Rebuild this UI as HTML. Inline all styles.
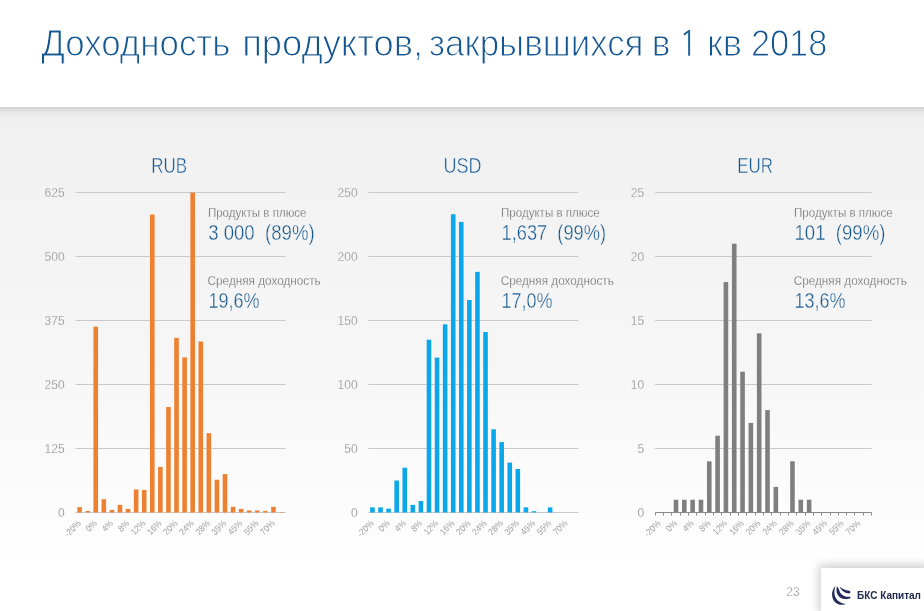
<!DOCTYPE html>
<html><head><meta charset="utf-8"><style>
html,body{margin:0;padding:0;}
body{width:924px;height:611px;overflow:hidden;position:relative;font-family:"Liberation Sans",sans-serif;background:#fff;}
#hdr{position:absolute;left:0;top:0;width:924px;height:106px;background:#fff;}
#bg{position:absolute;left:0;top:107px;width:924px;height:504px;background:linear-gradient(to bottom,#d3d3d3 0px,#d9d9d9 2.5px,#e6e6e6 5px,#ececec 8px,#f0f0f0 14px,#f2f2f2 60px,#f6f6f6 250px,#fdfdfd 420px,#ffffff 465px);}
svg{position:absolute;left:0;top:0;will-change:transform;}
.gl{stroke:#c9c9c9;stroke-width:1;}
.yl{font-size:12px;fill:#777;text-anchor:end;stroke:#f3f3f3;stroke-width:0.35px;}
.xl{font-size:9px;fill:#606060;text-anchor:end;stroke:#fbfbfb;stroke-width:0.25px;}
.ti{fill:#125590;stroke:#fff;stroke-width:1.05px;}
.ct{fill:#155891;stroke:#f2f2f2;stroke-width:0.5px;}
.al{fill:#555;stroke:#f3f3f3;stroke-width:0.35px;}
.av{fill:#15578c;stroke:#f3f3f3;stroke-width:0.4px;}
.pn{fill:#7a7a7a;stroke:#fff;stroke-width:0.4px;}
#logo{position:absolute;left:821px;top:568px;width:110px;height:50px;background:#fff;box-shadow:-2px -3px 9px rgba(0,0,0,0.2);}
#lt{position:absolute;left:36px;top:22px;font-size:10px;font-weight:bold;color:#222a50;white-space:nowrap;}
</style></head><body>
<div id="hdr"></div>
<div id="bg"></div>
<svg width="924" height="611" viewBox="0 0 924 611" font-family="Liberation Sans, sans-serif">
<line x1="75.56" y1="512.50" x2="285.56" y2="512.50" class="gl"/>
<text x="64.6" y="516.70" class="yl">0</text>
<line x1="75.56" y1="448.50" x2="285.56" y2="448.50" class="gl"/>
<text x="64.6" y="452.70" class="yl">125</text>
<line x1="75.56" y1="384.50" x2="285.56" y2="384.50" class="gl"/>
<text x="64.6" y="388.70" class="yl">250</text>
<line x1="75.56" y1="320.50" x2="285.56" y2="320.50" class="gl"/>
<text x="64.6" y="324.70" class="yl">375</text>
<line x1="75.56" y1="256.50" x2="285.56" y2="256.50" class="gl"/>
<text x="64.6" y="260.70" class="yl">500</text>
<line x1="75.56" y1="192.50" x2="285.56" y2="192.50" class="gl"/>
<text x="64.6" y="196.70" class="yl">625</text>
<rect x="77.30" y="507.12" width="4.6" height="5.38" fill="#ee8031"/>
<rect x="85.38" y="510.96" width="4.6" height="1.54" fill="#ee8031"/>
<rect x="93.45" y="326.64" width="4.6" height="185.86" fill="#ee8031"/>
<rect x="101.53" y="499.19" width="4.6" height="13.31" fill="#ee8031"/>
<rect x="109.61" y="509.94" width="4.6" height="2.56" fill="#ee8031"/>
<rect x="117.68" y="504.82" width="4.6" height="7.68" fill="#ee8031"/>
<rect x="125.76" y="508.92" width="4.6" height="3.58" fill="#ee8031"/>
<rect x="133.84" y="489.46" width="4.6" height="23.04" fill="#ee8031"/>
<rect x="141.91" y="489.97" width="4.6" height="22.53" fill="#ee8031"/>
<rect x="149.99" y="214.52" width="4.6" height="297.98" fill="#ee8031"/>
<rect x="158.07" y="466.93" width="4.6" height="45.57" fill="#ee8031"/>
<rect x="166.14" y="407.03" width="4.6" height="105.47" fill="#ee8031"/>
<rect x="174.22" y="337.91" width="4.6" height="174.59" fill="#ee8031"/>
<rect x="182.30" y="357.36" width="4.6" height="155.14" fill="#ee8031"/>
<rect x="190.38" y="192.50" width="4.6" height="320.00" fill="#ee8031"/>
<rect x="198.45" y="341.49" width="4.6" height="171.01" fill="#ee8031"/>
<rect x="206.53" y="433.14" width="4.6" height="79.36" fill="#ee8031"/>
<rect x="214.61" y="479.73" width="4.6" height="32.77" fill="#ee8031"/>
<rect x="222.68" y="474.10" width="4.6" height="38.40" fill="#ee8031"/>
<rect x="230.76" y="506.87" width="4.6" height="5.63" fill="#ee8031"/>
<rect x="238.84" y="508.92" width="4.6" height="3.58" fill="#ee8031"/>
<rect x="246.91" y="510.45" width="4.6" height="2.05" fill="#ee8031"/>
<rect x="254.99" y="510.45" width="4.6" height="2.05" fill="#ee8031"/>
<rect x="263.07" y="510.96" width="4.6" height="1.54" fill="#ee8031"/>
<rect x="271.14" y="506.87" width="4.6" height="5.63" fill="#ee8031"/>
<rect x="279.22" y="511.99" width="4.6" height="0.51" fill="#ee8031"/>
<text class="xl" transform="translate(81.40 524.00) rotate(-45) scale(0.9 1)">-20%</text>
<text class="xl" transform="translate(97.55 524.00) rotate(-45) scale(0.9 1)">0%</text>
<text class="xl" transform="translate(113.71 524.00) rotate(-45) scale(0.9 1)">4%</text>
<text class="xl" transform="translate(129.86 524.00) rotate(-45) scale(0.9 1)">8%</text>
<text class="xl" transform="translate(146.01 524.00) rotate(-45) scale(0.9 1)">12%</text>
<text class="xl" transform="translate(162.17 524.00) rotate(-45) scale(0.9 1)">16%</text>
<text class="xl" transform="translate(178.32 524.00) rotate(-45) scale(0.9 1)">20%</text>
<text class="xl" transform="translate(194.48 524.00) rotate(-45) scale(0.9 1)">24%</text>
<text class="xl" transform="translate(210.63 524.00) rotate(-45) scale(0.9 1)">28%</text>
<text class="xl" transform="translate(226.78 524.00) rotate(-45) scale(0.9 1)">35%</text>
<text class="xl" transform="translate(242.94 524.00) rotate(-45) scale(0.9 1)">45%</text>
<text class="xl" transform="translate(259.09 524.00) rotate(-45) scale(0.9 1)">55%</text>
<text class="xl" transform="translate(275.24 524.00) rotate(-45) scale(0.9 1)">70%</text>
<line x1="368.40" y1="512.50" x2="578.40" y2="512.50" class="gl"/>
<text x="357.6" y="516.70" class="yl">0</text>
<line x1="368.40" y1="448.50" x2="578.40" y2="448.50" class="gl"/>
<text x="357.6" y="452.70" class="yl">50</text>
<line x1="368.40" y1="384.50" x2="578.40" y2="384.50" class="gl"/>
<text x="357.6" y="388.70" class="yl">100</text>
<line x1="368.40" y1="320.50" x2="578.40" y2="320.50" class="gl"/>
<text x="357.6" y="324.70" class="yl">150</text>
<line x1="368.40" y1="256.50" x2="578.40" y2="256.50" class="gl"/>
<text x="357.6" y="260.70" class="yl">200</text>
<line x1="368.40" y1="192.50" x2="578.40" y2="192.50" class="gl"/>
<text x="357.6" y="196.70" class="yl">250</text>
<rect x="370.14" y="507.38" width="4.6" height="5.12" fill="#0aa8ea"/>
<rect x="378.22" y="507.38" width="4.6" height="5.12" fill="#0aa8ea"/>
<rect x="386.29" y="508.66" width="4.6" height="3.84" fill="#0aa8ea"/>
<rect x="394.37" y="480.50" width="4.6" height="32.00" fill="#0aa8ea"/>
<rect x="402.45" y="467.70" width="4.6" height="44.80" fill="#0aa8ea"/>
<rect x="410.52" y="504.82" width="4.6" height="7.68" fill="#0aa8ea"/>
<rect x="418.60" y="500.98" width="4.6" height="11.52" fill="#0aa8ea"/>
<rect x="426.68" y="339.70" width="4.6" height="172.80" fill="#0aa8ea"/>
<rect x="434.75" y="357.62" width="4.6" height="154.88" fill="#0aa8ea"/>
<rect x="442.83" y="324.34" width="4.6" height="188.16" fill="#0aa8ea"/>
<rect x="450.91" y="214.26" width="4.6" height="298.24" fill="#0aa8ea"/>
<rect x="458.98" y="221.94" width="4.6" height="290.56" fill="#0aa8ea"/>
<rect x="467.06" y="300.02" width="4.6" height="212.48" fill="#0aa8ea"/>
<rect x="475.14" y="271.86" width="4.6" height="240.64" fill="#0aa8ea"/>
<rect x="483.22" y="332.02" width="4.6" height="180.48" fill="#0aa8ea"/>
<rect x="491.29" y="429.30" width="4.6" height="83.20" fill="#0aa8ea"/>
<rect x="499.37" y="442.10" width="4.6" height="70.40" fill="#0aa8ea"/>
<rect x="507.45" y="462.58" width="4.6" height="49.92" fill="#0aa8ea"/>
<rect x="515.52" y="468.98" width="4.6" height="43.52" fill="#0aa8ea"/>
<rect x="523.60" y="507.38" width="4.6" height="5.12" fill="#0aa8ea"/>
<rect x="531.68" y="511.22" width="4.6" height="1.28" fill="#0aa8ea"/>
<rect x="547.83" y="507.38" width="4.6" height="5.12" fill="#0aa8ea"/>
<text class="xl" transform="translate(374.24 524.00) rotate(-45) scale(0.9 1)">-20%</text>
<text class="xl" transform="translate(390.39 524.00) rotate(-45) scale(0.9 1)">0%</text>
<text class="xl" transform="translate(406.55 524.00) rotate(-45) scale(0.9 1)">4%</text>
<text class="xl" transform="translate(422.70 524.00) rotate(-45) scale(0.9 1)">8%</text>
<text class="xl" transform="translate(438.85 524.00) rotate(-45) scale(0.9 1)">12%</text>
<text class="xl" transform="translate(455.01 524.00) rotate(-45) scale(0.9 1)">16%</text>
<text class="xl" transform="translate(471.16 524.00) rotate(-45) scale(0.9 1)">20%</text>
<text class="xl" transform="translate(487.32 524.00) rotate(-45) scale(0.9 1)">24%</text>
<text class="xl" transform="translate(503.47 524.00) rotate(-45) scale(0.9 1)">28%</text>
<text class="xl" transform="translate(519.62 524.00) rotate(-45) scale(0.9 1)">35%</text>
<text class="xl" transform="translate(535.78 524.00) rotate(-45) scale(0.9 1)">45%</text>
<text class="xl" transform="translate(551.93 524.00) rotate(-45) scale(0.9 1)">55%</text>
<text class="xl" transform="translate(568.08 524.00) rotate(-45) scale(0.9 1)">70%</text>
<text x="644.2" y="516.70" class="yl">0</text>
<line x1="655.20" y1="448.50" x2="871.50" y2="448.50" class="gl"/>
<text x="644.2" y="452.70" class="yl">5</text>
<line x1="655.20" y1="384.50" x2="871.50" y2="384.50" class="gl"/>
<text x="644.2" y="388.70" class="yl">10</text>
<line x1="655.20" y1="320.50" x2="871.50" y2="320.50" class="gl"/>
<text x="644.2" y="324.70" class="yl">15</text>
<line x1="655.20" y1="256.50" x2="871.50" y2="256.50" class="gl"/>
<text x="644.2" y="260.70" class="yl">20</text>
<line x1="655.20" y1="192.50" x2="871.50" y2="192.50" class="gl"/>
<text x="644.2" y="196.70" class="yl">25</text>
<rect x="673.70" y="499.70" width="4.6" height="12.80" fill="#7f7f7f"/>
<rect x="682.02" y="499.70" width="4.6" height="12.80" fill="#7f7f7f"/>
<rect x="690.34" y="499.70" width="4.6" height="12.80" fill="#7f7f7f"/>
<rect x="698.66" y="499.70" width="4.6" height="12.80" fill="#7f7f7f"/>
<rect x="706.98" y="461.30" width="4.6" height="51.20" fill="#7f7f7f"/>
<rect x="715.29" y="435.70" width="4.6" height="76.80" fill="#7f7f7f"/>
<rect x="723.61" y="282.10" width="4.6" height="230.40" fill="#7f7f7f"/>
<rect x="731.93" y="243.70" width="4.6" height="268.80" fill="#7f7f7f"/>
<rect x="740.25" y="371.70" width="4.6" height="140.80" fill="#7f7f7f"/>
<rect x="748.57" y="422.90" width="4.6" height="89.60" fill="#7f7f7f"/>
<rect x="756.89" y="333.30" width="4.6" height="179.20" fill="#7f7f7f"/>
<rect x="765.21" y="410.10" width="4.6" height="102.40" fill="#7f7f7f"/>
<rect x="773.53" y="486.90" width="4.6" height="25.60" fill="#7f7f7f"/>
<rect x="790.17" y="461.30" width="4.6" height="51.20" fill="#7f7f7f"/>
<rect x="798.49" y="499.70" width="4.6" height="12.80" fill="#7f7f7f"/>
<rect x="806.81" y="499.70" width="4.6" height="12.80" fill="#7f7f7f"/>
<line x1="655.20" y1="512.50" x2="871.50" y2="512.50" stroke="#8a8a8a" stroke-width="1"/>
<line x1="655.50" y1="512.50" x2="655.50" y2="515.50" stroke="#8a8a8a" stroke-width="1"/>
<line x1="663.50" y1="512.50" x2="663.50" y2="515.50" stroke="#8a8a8a" stroke-width="1"/>
<line x1="671.50" y1="512.50" x2="671.50" y2="515.50" stroke="#8a8a8a" stroke-width="1"/>
<line x1="680.50" y1="512.50" x2="680.50" y2="515.50" stroke="#8a8a8a" stroke-width="1"/>
<line x1="688.50" y1="512.50" x2="688.50" y2="515.50" stroke="#8a8a8a" stroke-width="1"/>
<line x1="696.50" y1="512.50" x2="696.50" y2="515.50" stroke="#8a8a8a" stroke-width="1"/>
<line x1="705.50" y1="512.50" x2="705.50" y2="515.50" stroke="#8a8a8a" stroke-width="1"/>
<line x1="713.50" y1="512.50" x2="713.50" y2="515.50" stroke="#8a8a8a" stroke-width="1"/>
<line x1="721.50" y1="512.50" x2="721.50" y2="515.50" stroke="#8a8a8a" stroke-width="1"/>
<line x1="730.50" y1="512.50" x2="730.50" y2="515.50" stroke="#8a8a8a" stroke-width="1"/>
<line x1="738.50" y1="512.50" x2="738.50" y2="515.50" stroke="#8a8a8a" stroke-width="1"/>
<line x1="746.50" y1="512.50" x2="746.50" y2="515.50" stroke="#8a8a8a" stroke-width="1"/>
<line x1="755.50" y1="512.50" x2="755.50" y2="515.50" stroke="#8a8a8a" stroke-width="1"/>
<line x1="763.50" y1="512.50" x2="763.50" y2="515.50" stroke="#8a8a8a" stroke-width="1"/>
<line x1="771.50" y1="512.50" x2="771.50" y2="515.50" stroke="#8a8a8a" stroke-width="1"/>
<line x1="780.50" y1="512.50" x2="780.50" y2="515.50" stroke="#8a8a8a" stroke-width="1"/>
<line x1="788.50" y1="512.50" x2="788.50" y2="515.50" stroke="#8a8a8a" stroke-width="1"/>
<line x1="796.50" y1="512.50" x2="796.50" y2="515.50" stroke="#8a8a8a" stroke-width="1"/>
<line x1="805.50" y1="512.50" x2="805.50" y2="515.50" stroke="#8a8a8a" stroke-width="1"/>
<line x1="813.50" y1="512.50" x2="813.50" y2="515.50" stroke="#8a8a8a" stroke-width="1"/>
<line x1="821.50" y1="512.50" x2="821.50" y2="515.50" stroke="#8a8a8a" stroke-width="1"/>
<line x1="830.50" y1="512.50" x2="830.50" y2="515.50" stroke="#8a8a8a" stroke-width="1"/>
<line x1="838.50" y1="512.50" x2="838.50" y2="515.50" stroke="#8a8a8a" stroke-width="1"/>
<line x1="846.50" y1="512.50" x2="846.50" y2="515.50" stroke="#8a8a8a" stroke-width="1"/>
<line x1="854.50" y1="512.50" x2="854.50" y2="515.50" stroke="#8a8a8a" stroke-width="1"/>
<line x1="863.50" y1="512.50" x2="863.50" y2="515.50" stroke="#8a8a8a" stroke-width="1"/>
<line x1="871.50" y1="512.50" x2="871.50" y2="515.50" stroke="#8a8a8a" stroke-width="1"/>
<text class="xl" transform="translate(661.16 524.00) rotate(-45) scale(0.9 1)">-20%</text>
<text class="xl" transform="translate(677.80 524.00) rotate(-45) scale(0.9 1)">0%</text>
<text class="xl" transform="translate(694.44 524.00) rotate(-45) scale(0.9 1)">4%</text>
<text class="xl" transform="translate(711.08 524.00) rotate(-45) scale(0.9 1)">8%</text>
<text class="xl" transform="translate(727.71 524.00) rotate(-45) scale(0.9 1)">12%</text>
<text class="xl" transform="translate(744.35 524.00) rotate(-45) scale(0.9 1)">16%</text>
<text class="xl" transform="translate(760.99 524.00) rotate(-45) scale(0.9 1)">20%</text>
<text class="xl" transform="translate(777.63 524.00) rotate(-45) scale(0.9 1)">24%</text>
<text class="xl" transform="translate(794.27 524.00) rotate(-45) scale(0.9 1)">28%</text>
<text class="xl" transform="translate(810.91 524.00) rotate(-45) scale(0.9 1)">35%</text>
<text class="xl" transform="translate(827.54 524.00) rotate(-45) scale(0.9 1)">45%</text>
<text class="xl" transform="translate(844.18 524.00) rotate(-45) scale(0.9 1)">55%</text>
<text class="xl" transform="translate(860.82 524.00) rotate(-45) scale(0.9 1)">70%</text>
<text class="ti" font-size="37.4" transform="translate(41.13 55.70) scale(0.9333 1)">Доходность</text>
<text class="ti" font-size="37.4" transform="translate(242.15 55.70) scale(0.9724 1)">продуктов,</text>
<text class="ti" font-size="37.4" transform="translate(429.03 55.70) scale(0.9327 1)">закрывшихся</text>
<text class="ti" font-size="37.4" transform="translate(651.73 55.70) scale(0.9422 1)">в</text>
<text class="ti" font-size="37.4" transform="translate(706.95 55.70) scale(0.9675 1)">кв</text>
<text class="ti" font-size="37.4" transform="translate(750.88 55.70) scale(0.9192 1)">2018</text>
<text class="ct" font-size="21.8" transform="translate(151.34 173.20) scale(0.7784 1)">RUB</text>
<text class="ct" font-size="21.8" transform="translate(443.44 173.20) scale(0.8298 1)">USD</text>
<text class="ct" font-size="21.8" transform="translate(737.24 173.20) scale(0.7788 1)">EUR</text>
<text class="al" font-size="13" transform="translate(207.88 216.60) scale(0.8891 1)">Продукты в плюсе</text>
<text class="av" font-size="21.5" transform="translate(208.16 240.00) scale(0.8657 1)">3 000&#160;&#160;(89%)</text>
<text class="al" font-size="13" transform="translate(207.61 285.20) scale(0.9047 1)">Средняя доходность</text>
<text class="av" font-size="21.5" transform="translate(208.45 307.80) scale(0.8398 1)">19,6%</text>
<text class="al" font-size="13" transform="translate(500.98 216.60) scale(0.8891 1)">Продукты в плюсе</text>
<text class="av" font-size="21.5" transform="translate(501.53 240.00) scale(0.8495 1)">1,637&#160;&#160;(99%)</text>
<text class="al" font-size="13" transform="translate(500.71 285.20) scale(0.9047 1)">Средняя доходность</text>
<text class="av" font-size="21.5" transform="translate(501.55 307.80) scale(0.8381 1)">17,0%</text>
<text class="al" font-size="13" transform="translate(793.98 216.60) scale(0.8891 1)">Продукты в плюсе</text>
<text class="av" font-size="21.5" transform="translate(794.51 240.00) scale(0.8647 1)">101&#160;&#160;(99%)</text>
<text class="al" font-size="13" transform="translate(793.71 285.20) scale(0.9047 1)">Средняя доходность</text>
<text class="av" font-size="21.5" transform="translate(794.55 307.80) scale(0.8381 1)">13,6%</text>
<rect x="688.1" y="30.2" width="2" height="25.5" fill="#236699"/><path d="M683.9 34.6 L689.6 30.6" stroke="#236699" stroke-width="1.9" stroke-linecap="butt"/>
<text class="pn" font-size="11.9" transform="translate(786.19 595.80) scale(1.0216 1)">23</text>
</svg>
<div id="logo">
<svg width="32" height="30" viewBox="0 0 655 611" style="left:3.5px;top:11px">
<path d="M215 140 C110 240 120 440 260 510 C320 535 390 530 430 510 C330 500 230 440 200 340 C185 270 195 200 215 140Z" fill="#22285a"/>
<path d="M245 148 C215 260 250 390 400 410 C450 415 490 410 515 395 C535 380 520 355 495 362 C400 375 320 320 295 240 C285 205 265 170 245 148Z" fill="#22285a"/>
<path d="M298 150 C340 190 420 235 495 238 C525 240 530 290 495 295 C410 290 330 230 298 150Z" fill="#22285a"/>
</svg>
<div id="lt">БКС Капитал</div>
</div>
</body></html>
